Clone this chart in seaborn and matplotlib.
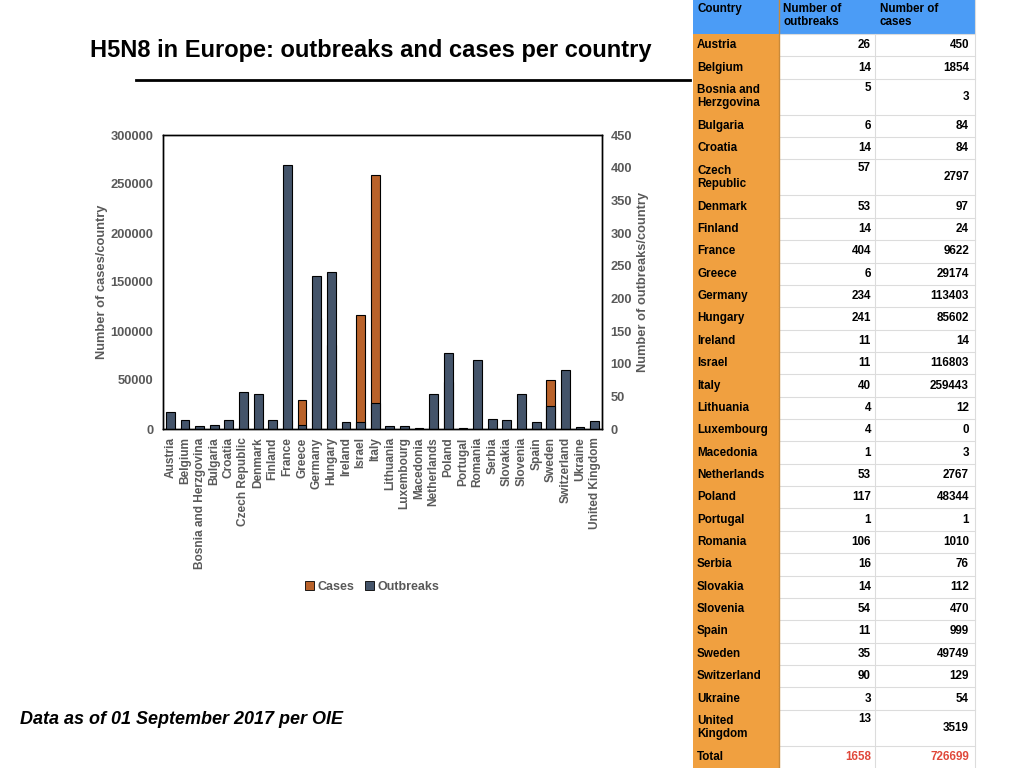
import matplotlib
matplotlib.use("Agg")
import matplotlib.pyplot as plt
from matplotlib.patches import Patch, Rectangle
import pandas as pd
import seaborn as sns

# H5N8 outbreaks / cases per country (OIE, 01 Sep 2017)
countries = ["Austria", "Belgium", "Bosnia and Herzgovina", "Bulgaria", "Croatia",
             "Czech Republic", "Denmark", "Finland", "France", "Greece", "Germany",
             "Hungary", "Ireland", "Israel", "Italy", "Lithuania", "Luxembourg",
             "Macedonia", "Netherlands", "Poland", "Portugal", "Romania", "Serbia",
             "Slovakia", "Slovenia", "Spain", "Sweden", "Switzerland", "Ukraine",
             "United Kingdom"]
outbreaks = [26, 14, 5, 6, 14, 57, 53, 14, 404, 6, 234, 241, 11, 11, 40, 4, 4, 1,
             53, 117, 1, 106, 16, 14, 54, 11, 35, 90, 3, 13]
cases = [450, 1854, 3, 84, 84, 2797, 97, 24, 9622, 29174, 113403, 85602, 14,
         116803, 259443, 12, 0, 3, 2767, 48344, 1, 1010, 76, 112, 470, 999, 49749,
         129, 54, 3519]
cases_ticks = [0, 50000, 100000, 150000, 200000, 250000, 300000]
outbreak_ticks = [0, 50, 100, 150, 200, 250, 300, 350, 400, 450]

# names wrapped over two lines in the table
wrapped = {"Bosnia and Herzgovina": "Bosnia and\nHerzgovina",
           "Czech Republic": "Czech\nRepublic",
           "United Kingdom": "United\nKingdom"}

df = pd.DataFrame({"Country": countries, "Outbreaks": outbreaks, "Cases": cases})

plt.rcParams["font.family"] = ["Liberation Sans", "DejaVu Sans"]
plt.rcParams["font.weight"] = "bold"
plt.rcParams["axes.labelweight"] = "bold"

c_cases = "#b9622a"
c_out = "#44546a"
grey = "#595959"

fig = plt.figure(figsize=(10.24, 7.68), dpi=100)
ax = fig.add_axes([163 / 1024, 1 - 429 / 768, 439 / 1024, 294 / 768])

sns.barplot(data=df, x="Country", y="Cases", ax=ax, color=c_cases, width=0.6,
            edgecolor="black", linewidth=0.8, errorbar=None, saturation=1)
ax2 = ax.twinx()
sns.barplot(data=df, x="Country", y="Outbreaks", ax=ax2, color=c_out, width=0.6,
            edgecolor="black", linewidth=0.8, errorbar=None, saturation=1)

ax.set_ylim(0, 300000)
ax.set_yticks(cases_ticks)
ax.set_yticklabels([str(t) for t in cases_ticks])
ax2.set_ylim(0, 450)
ax2.set_yticks(outbreak_ticks)
ax2.set_yticklabels([str(t) for t in outbreak_ticks])

ax.set_xlabel("")
ax2.set_xlabel("")
ax.set_ylabel("Number of cases/country", color=grey, fontsize=9.3, fontweight="bold")
ax2.set_ylabel("Number of outbreaks/country", color=grey, fontsize=9.3, fontweight="bold")
ax.yaxis.set_label_coords(-0.125, 0.5)
ax2.yaxis.set_label_coords(1.080, 0.5)

ax.tick_params(axis="y", length=0, pad=7, labelcolor=grey, labelsize=9.3)
ax.tick_params(axis="x", length=0, pad=6, labelcolor=grey, labelsize=8.6, rotation=90)
ax2.tick_params(axis="y", length=0, pad=6, labelcolor=grey, labelsize=9.3)
for a in (ax, ax2):
    for s in a.spines.values():
        s.set_color("black")
        s.set_linewidth(1)

fig.legend(handles=[Patch(facecolor=c_cases, edgecolor="black", linewidth=0.6, label="Cases"),
                    Patch(facecolor=c_out, edgecolor="black", linewidth=0.6, label="Outbreaks")],
           loc="center", bbox_to_anchor=(372 / 1024, 1 - 587 / 768), ncol=2, frameon=False,
           handlelength=0.75, handleheight=0.75, handletextpad=0.3, columnspacing=0.8,
           prop={"size": 9, "weight": "bold"}, labelcolor=grey)

# overlay in pixel coordinates for title, note and table
ov = fig.add_axes([0, 0, 1, 1])
ov.set_xlim(0, 1024)
ov.set_ylim(768, 0)
ov.axis("off")

ov.text(371, 50, "H5N8 in Europe: outbreaks and cases per country", ha="center",
        va="center", fontsize=17, fontweight="bold", color="black")
ov.plot([136, 690], [80, 80], color="black", lw=2)
ov.text(20, 720, "Data as of 01 September 2017 per OIE", ha="left", va="center",
        fontsize=13, fontweight="bold", style="italic", color="black")

# table
x0, x1, x2, x3 = 693, 779, 875, 975
blue = "#4b9cf6"
orange = "#f0a040"
line = "#dcdcdc"
fs = 8.4

ov.add_patch(Rectangle((x0, 0), x3 - x0, 34, facecolor=blue, edgecolor="none"))
ov.text(x0 + 4, 9, "Country", ha="left", va="center", fontsize=fs)
ov.text(x1 + 4, 3, "Number of\noutbreaks", ha="left", va="top", fontsize=fs, linespacing=1.15)
ov.text(x2 + 5, 3, "Number of\ncases", ha="left", va="top", fontsize=fs, linespacing=1.15)

rows = [(wrapped.get(c, c), o, k, "black") for c, o, k in zip(countries, outbreaks, cases)]
rows.append(("Total", sum(outbreaks), sum(cases), "#e0483a"))

y = 34
h1, h2 = 22.36, 36
for label, o, k, col in rows:
    h = h2 if "\n" in label else h1
    ov.add_patch(Rectangle((x0, y), x1 - x0, h, facecolor=orange, edgecolor="none"))
    ov.plot([x1, x3], [y, y], color=line, lw=0.8)
    ov.text(x0 + 4, y + h / 2, label, ha="left", va="center", fontsize=fs, linespacing=1.15)
    if h == h2:
        ov.text(x2 - 4, y + 9, str(o), ha="right", va="center", fontsize=fs, color=col)
    else:
        ov.text(x2 - 4, y + h / 2, str(o), ha="right", va="center", fontsize=fs, color=col)
    ov.text(x3 - 6, y + h / 2, str(k), ha="right", va="center", fontsize=fs, color=col)
    y += h

ov.plot([x1, x1], [0, 768], color="#c98a3a", lw=1)
ov.plot([x2, x2], [34, 768], color=line, lw=0.8)
ov.plot([x3, x3], [0, 768], color=line, lw=0.8)

fig.savefig("out.png", dpi=100)
